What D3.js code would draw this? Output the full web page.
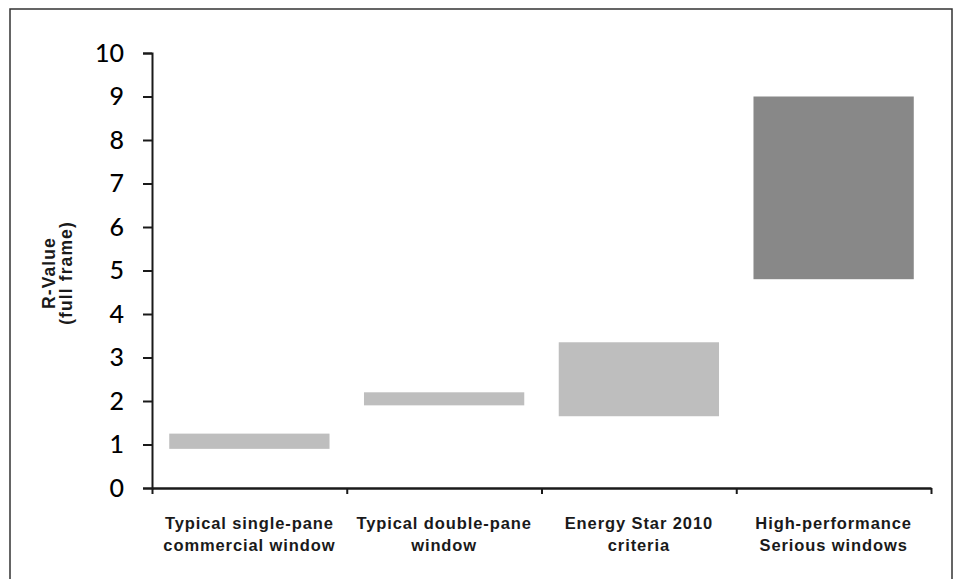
<!DOCTYPE html>
<html>
<head>
<meta charset="utf-8">
<script src="https://cdn.jsdelivr.net/npm/d3@7"></script>
<style>
  html, body { margin: 0; padding: 0; background: #fff; }
  svg { display: block; }
</style>
</head>
<body>
<svg id="chart" width="957" height="579"></svg>
<script>
const categories = [
  ["Typical single-pane", "commercial window"],
  ["Typical double-pane", "window"],
  ["Energy Star 2010", "criteria"],
  ["High-performance", "Serious windows"]
];
const lowValues  = [0.9, 1.9, 1.65, 4.8];
const highValues = [1.25, 2.2, 3.35, 9.0];
const barColors  = ["#bebebe", "#bebebe", "#bebebe", "#888888"];
const yTicks = [0, 1, 2, 3, 4, 5, 6, 7, 8, 9, 10];
const yTitle = ["R-Value", "(full frame)"];

const svg = d3.select("#chart");

// outer frame
svg.append("rect")
  .attr("x", 10).attr("y", 9)
  .attr("width", 942).attr("height", 620)
  .attr("fill", "none")
  .attr("stroke", "#333")
  .attr("stroke-width", 1.5);

const x0 = 152, x1 = 931, yBottom = 488, yTop = 53;
const ids = categories.map((d, i) => i);

const x = d3.scaleBand()
  .domain(ids)
  .range([x0, x1])
  .paddingInner(0.177)
  .paddingOuter(0.0885);

const y = d3.scaleLinear().domain([0, 10]).range([yBottom, yTop]);

// bars
svg.append("g").selectAll("rect")
  .data(ids)
  .join("rect")
  .attr("x", i => x(i))
  .attr("width", x.bandwidth())
  .attr("y", i => y(highValues[i]))
  .attr("height", i => y(lowValues[i]) - y(highValues[i]))
  .attr("fill", i => barColors[i]);

// y axis
const yAxis = d3.axisLeft(y)
  .tickValues(yTicks)
  .tickSize(9)
  .tickSizeOuter(9)
  .tickPadding(19)
  .tickFormat(d3.format("d"));

const gy = svg.append("g")
  .attr("transform", `translate(${x0},0)`)
  .call(yAxis);
gy.select(".domain").attr("stroke", "#1a1a1a").attr("stroke-width", 2);
gy.selectAll(".tick line").attr("stroke", "#1a1a1a").attr("stroke-width", 2);
gy.selectAll(".tick text")
  .attr("font-family", "Lato, 'Open Sans', sans-serif")
  .attr("font-size", 25)
  .attr("font-weight", 500)
  .attr("fill", "#000");

// x axis (ticks at category boundaries)
const step = x.step();
const boundaries = d3.range(categories.length + 1).map(i => x0 + i * step);
const xb = d3.scaleLinear().domain([x0, x1]).range([x0, x1]);
const xAxis = d3.axisBottom(xb)
  .tickValues(boundaries)
  .tickSize(6)
  .tickSizeOuter(0)
  .tickFormat("");
const gx = svg.append("g")
  .attr("transform", `translate(0,${yBottom})`)
  .call(xAxis);
gx.select(".domain").attr("stroke", "#1a1a1a").attr("stroke-width", 2.5);
gx.selectAll(".tick line").attr("stroke", "#1a1a1a").attr("stroke-width", 2);

// category labels
const labels = svg.append("g")
  .attr("font-family", "'Liberation Sans', Arial, sans-serif")
  .attr("font-weight", "bold")
  .attr("font-size", 16.5)
  .attr("letter-spacing", 0.9)
  .attr("fill", "#1a1a1a")
  .attr("text-anchor", "middle");
labels.selectAll("text")
  .data(ids)
  .join("text")
  .attr("x", i => x(i) + x.bandwidth() / 2)
  .attr("y", 529)
  .selectAll("tspan")
  .data(i => categories[i])
  .join("tspan")
  .attr("x", function() { return d3.select(this.parentNode).attr("x"); })
  .attr("dy", (d, j) => j === 0 ? 0 : 22)
  .text(d => d);

// y title
const title = svg.append("text")
  .attr("transform", "translate(55,273) rotate(-90)")
  .attr("font-family", "'Liberation Sans', Arial, sans-serif")
  .attr("font-weight", "bold")
  .attr("font-size", 17.5)
  .attr("letter-spacing", 1.1)
  .attr("fill", "#1a1a1a")
  .attr("text-anchor", "middle");
title.selectAll("tspan")
  .data(yTitle)
  .join("tspan")
  .attr("x", 0)
  .attr("dy", (d, j) => j === 0 ? 0 : 17)
  .text(d => d);
</script>
</body>
</html>
